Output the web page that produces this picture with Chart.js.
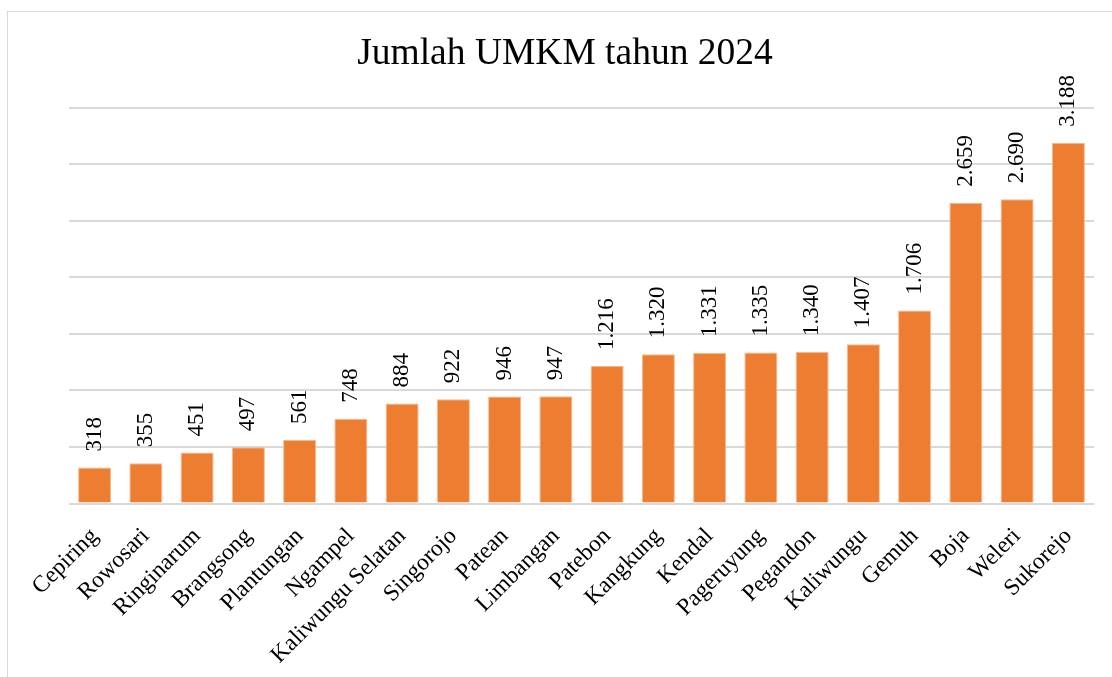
<!DOCTYPE html>
<html>
<head>
<meta charset="utf-8">
<script src="https://cdn.jsdelivr.net/npm/chart.js@4/dist/chart.umd.min.js"></script>
<style>
  body { margin: 0; background: #fff; overflow: hidden; }
  #frame { position: absolute; left: 7px; top: 11px; width: 1200px; height: 800px; border: 1px solid #d9d9d9; }
  #umkm { position: absolute; left: 0; top: 0; }
</style>
</head>
<body>
<div id="frame"></div>
<canvas id="umkm" width="1112" height="677"></canvas>
<script>
// Jumlah UMKM per kecamatan
const kecamatan = [
    "Cepiring", "Rowosari", "Ringinarum", "Brangsong", "Plantungan",
    "Ngampel", "Kaliwungu Selatan", "Singorojo", "Patean", "Limbangan",
    "Patebon", "Kangkung", "Kendal", "Pageruyung", "Pegandon",
    "Kaliwungu", "Gemuh", "Boja", "Weleri", "Sukorejo"
];
const jumlahUmkm = [318, 355, 451, 497, 561, 748, 884, 922, 946, 947,
    1216, 1320, 1331, 1335, 1340, 1407, 1706, 2659, 2690, 3188];
const yMin = 0;
const yMax = 3500;
const yStep = 500;

const serif = "'Liberation Serif', 'Times New Roman', serif";

function formatAngka(n) {
    return n.toString().replace(/\B(?=(\d{3})+(?!\d))/g, ".");
}

// label angka di atas batang (diputar 90 derajat)
const labelAngka = {
    id: "labelAngka",
    afterDatasetsDraw(chart) {
        const ctx = chart.ctx;
        const meta = chart.getDatasetMeta(0);
        ctx.save();
        ctx.font = "23px " + serif;
        ctx.fillStyle = "#000";
        ctx.textAlign = "left";
        ctx.textBaseline = "middle";
        meta.data.forEach((bar, i) => {
            ctx.save();
            ctx.translate(bar.x, bar.y - 16);
            ctx.rotate(-Math.PI / 2);
            ctx.fillText(formatAngka(chart.data.datasets[0].data[i]), 0, 0);
            ctx.restore();
        });
        ctx.restore();
    }
};

const umkmCanvas = document.getElementById("umkm");

const umkmChart = new Chart(umkmCanvas, {
    type: "bar",
    data: {
        labels: kecamatan,
        datasets: [
            {
                label: "Jumlah UMKM",
                data: jumlahUmkm,
                backgroundColor: "#ED7D31",
                borderColor: "#F6B98E",
                borderWidth: 1,
                categoryPercentage: 1,
                barPercentage: 0.645
            }
        ]
    },
    options: {
        responsive: false,
        animation: false,
        devicePixelRatio: 1,
        layout: { padding: { left: 36, right: 18, top: 0, bottom: 0 } },
        plugins: {
            legend: { display: false },
            tooltip: { enabled: false },
            title: {
                display: true,
                text: "Jumlah UMKM tahun 2024",
                color: "#000",
                font: { family: serif, size: 37.5, weight: "normal", lineHeight: 1.2 },
                padding: { top: 32, bottom: 30.5 }
            }
        },
        scales: {
            x: {
                grid: { display: false },
                border: { display: false },
                ticks: {
                    color: "#000",
                    font: { family: serif, size: 23.5 },
                    minRotation: 45,
                    maxRotation: 45,
                    autoSkip: false,
                    padding: 11
                },
                afterFit(scale) { scale.height = 173.5; }
            },
            y: {
                min: yMin,
                max: yMax,
                ticks: { display: false, stepSize: yStep },
                grid: { color: "#d9d9d9", lineWidth: 2, drawTicks: false },
                border: { display: false },
                afterFit(scale) { scale.width = 33; }
            }
        }
    },
    plugins: [labelAngka]
});
</script>
</body>
</html>
